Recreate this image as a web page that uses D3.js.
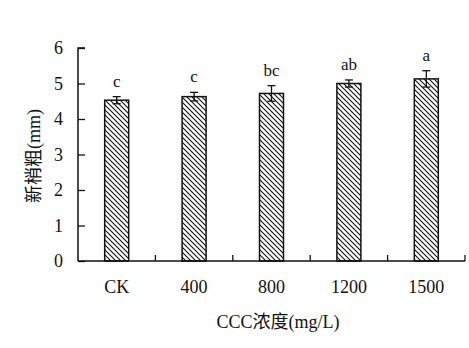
<!DOCTYPE html>
<html>
<head>
<meta charset="utf-8">
<script src="https://cdn.jsdelivr.net/npm/d3@7"></script>
<style>
  body { margin: 0; background: #fff; }
  text { font-family: "Liberation Serif", "Times New Roman", "Noto Sans CJK SC", serif; fill: #111; }
</style>
</head>
<body>
<div id="chart"></div>
<script>
// Data
const categories = ["CK", "400", "800", "1200", "1500"];
const values = [4.53, 4.63, 4.72, 5.0, 5.13];
const errors = [0.1, 0.12, 0.22, 0.1, 0.23];
const letters = ["c", "c", "bc", "ab", "a"];
const yTicks = [0, 1, 2, 3, 4, 5, 6];

const width = 469, height = 348;
const margin = { top: 48, right: 4, bottom: 87, left: 78 };
const innerW = width - margin.left - margin.right;
const innerH = height - margin.top - margin.bottom;

const svg = d3.select("#chart").append("svg")
  .attr("width", width)
  .attr("height", height);

// Hatch pattern (lines running top-left to bottom-right)
const defs = svg.append("defs");
defs.append("pattern")
  .attr("id", "hatch")
  .attr("patternUnits", "userSpaceOnUse")
  .attr("width", 5)
  .attr("height", 5)
  .append("path")
  .attr("d", "M0,0 L5,5 M-1,4 L1,6 M4,-1 L6,1")
  .attr("stroke", "#111")
  .attr("stroke-width", 1.1);

const chart = svg.append("g")
  .attr("transform", `translate(${margin.left},${margin.top})`);

const x = d3.scaleBand().domain(categories).range([0, innerW]).paddingInner(0.69).paddingOuter(0.345);
const y = d3.scaleLinear().domain([0, 6]).range([innerH, 0]);

// Bars
chart.selectAll(".bar")
  .data(values)
  .join("rect")
  .attr("class", "bar")
  .attr("x", (d, i) => x(categories[i]))
  .attr("y", d => y(d))
  .attr("width", x.bandwidth())
  .attr("height", d => innerH - y(d))
  .attr("fill", "url(#hatch)")
  .attr("stroke", "#111")
  .attr("stroke-width", 1.5);

// Error bars
const eb = chart.selectAll(".err")
  .data(values)
  .join("g")
  .attr("class", "err")
  .attr("transform", (d, i) => `translate(${x(categories[i]) + x.bandwidth() / 2},0)`)
  .attr("stroke", "#111")
  .attr("stroke-width", 1.3);
eb.append("line")
  .attr("y1", (d, i) => y(d + errors[i]))
  .attr("y2", (d, i) => y(d - errors[i]));
eb.append("line")
  .attr("x1", -4).attr("x2", 4)
  .attr("y1", (d, i) => y(d + errors[i]))
  .attr("y2", (d, i) => y(d + errors[i]));
eb.append("line")
  .attr("x1", -4).attr("x2", 4)
  .attr("y1", (d, i) => y(d - errors[i]))
  .attr("y2", (d, i) => y(d - errors[i]));

// Significance letters
chart.selectAll(".sig")
  .data(letters)
  .join("text")
  .attr("class", "sig")
  .attr("x", (d, i) => x(categories[i]) + x.bandwidth() / 2)
  .attr("y", (d, i) => y(values[i] + errors[i]) - 10)
  .attr("text-anchor", "middle")
  .style("font-size", "17px")
  .text(d => d);

// Y axis
const yAxis = d3.axisLeft(y).tickValues(yTicks).tickSize(-7).tickPadding(15).tickFormat(d3.format("d"));
const yG = chart.append("g").call(yAxis);
yG.select(".domain").attr("d", `M0,${innerH}V0H7`).attr("stroke", "#111").attr("stroke-width", 1.5);
yG.selectAll(".tick line").attr("stroke", "#111").attr("stroke-width", 1.3);
yG.selectAll(".tick text").style("font-size", "18px").attr("fill", "#111");

// X axis: ticks at band boundaries, pointing up
const xG = chart.append("g").attr("transform", `translate(0,${innerH})`);
xG.append("line").attr("x1", 0).attr("x2", innerW).attr("stroke", "#111").attr("stroke-width", 1.5);
const step = x.step();
xG.selectAll(".btick")
  .data(categories)
  .join("line")
  .attr("class", "btick")
  .attr("x1", (d, i) => x(d) - x.paddingOuter() * step + step)
  .attr("x2", (d, i) => x(d) - x.paddingOuter() * step + step)
  .attr("y1", 0).attr("y2", -6)
  .attr("stroke", "#111").attr("stroke-width", 1.3);
xG.selectAll(".xlab")
  .data(categories)
  .join("text")
  .attr("class", "xlab")
  .attr("x", d => x(d) + x.bandwidth() / 2)
  .attr("y", 32)
  .attr("text-anchor", "middle")
  .style("font-size", "18px")
  .text(d => d);

// Axis titles
svg.append("text")
  .attr("x", 278)
  .attr("y", 328)
  .attr("text-anchor", "middle")
  .style("font-size", "18px")
  .text("CCC浓度(mg/L)");

svg.append("text")
  .attr("transform", `translate(40,156) rotate(-90)`)
  .attr("text-anchor", "middle")
  .style("font-size", "18px")
  .text("新梢粗(mm)");
</script>
</body>
</html>
